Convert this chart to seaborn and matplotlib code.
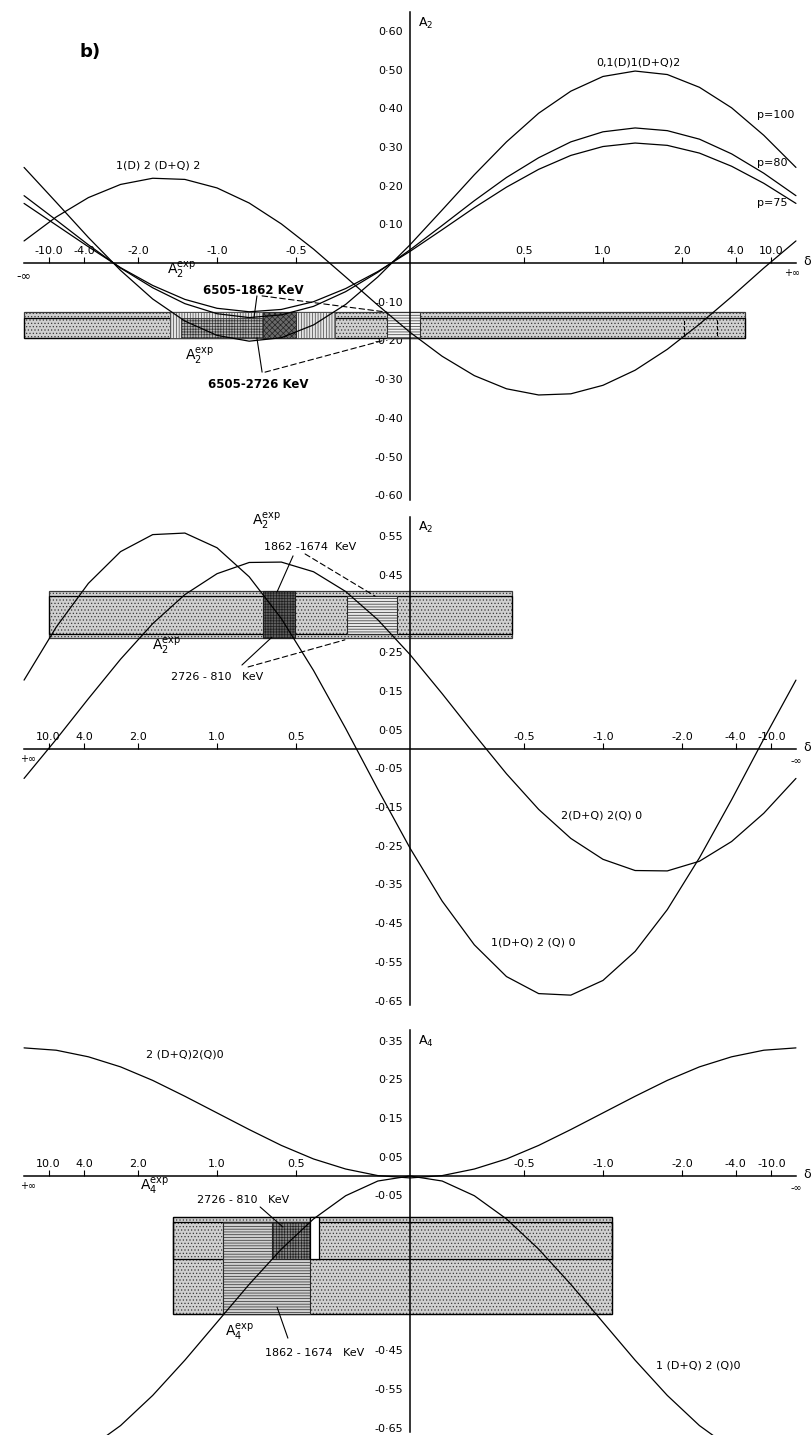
import numpy as np
import pandas as pd
import seaborn as sns
import matplotlib.pyplot as plt
from matplotlib.patches import Rectangle

# curves read on a grid of mixing angle arctan(delta), degrees
angle_deg = [-90, -82.5, -75, -67.5, -60, -52.5, -45, -37.5, -30, -22.5, -15, -7.5, 0,
             7.5, 15, 22.5, 30, 37.5, 45, 52.5, 60, 67.5, 75, 82.5, 90]

# panel 1: A2
a2_1d2dq2 = [0.057, 0.119, 0.169, 0.203, 0.219, 0.216, 0.194, 0.155, 0.101, 0.036, -0.036, -0.109,
             -0.179, -0.241, -0.291, -0.325, -0.341, -0.338, -0.316, -0.277, -0.223, -0.158, -0.087,
             -0.013, 0.057]
a2_p100 = [0.247, 0.157, 0.066, -0.019, -0.093, -0.150, -0.187, -0.202, -0.193, -0.160, -0.107, -0.036,
           0.047, 0.137, 0.228, 0.313, 0.387, 0.444, 0.482, 0.496, 0.487, 0.454, 0.401, 0.330, 0.247]
a2_p80 = [0.174, 0.111, 0.047, -0.013, -0.064, -0.105, -0.131, -0.141, -0.134, -0.112, -0.074, -0.024,
          0.034, 0.097, 0.161, 0.221, 0.272, 0.313, 0.339, 0.349, 0.342, 0.320, 0.282, 0.232, 0.174]
a2_p75 = [0.154, 0.098, 0.042, -0.012, -0.058, -0.094, -0.117, -0.126, -0.120, -0.100, -0.066, -0.022,
          0.030, 0.086, 0.143, 0.196, 0.242, 0.278, 0.301, 0.310, 0.304, 0.284, 0.250, 0.206, 0.154]

# panel 2: A2
a2_1dq2q0 = [0.178, 0.026, -0.131, -0.281, -0.415, -0.523, -0.598, -0.636, -0.632, -0.588, -0.506, -0.393,
             -0.256, -0.104, 0.053, 0.203, 0.337, 0.445, 0.520, 0.558, 0.554, 0.510, 0.428, 0.315, 0.178]
a2_2dq2q0 = [-0.076, -0.166, -0.239, -0.290, -0.315, -0.314, -0.285, -0.231, -0.156, -0.064, 0.038, 0.143,
             0.244, 0.334, 0.407, 0.458, 0.483, 0.482, 0.453, 0.399, 0.324, 0.232, 0.130, 0.025, -0.076]

# panel 3: A4
a4_2dq2q0 = [0.331, 0.325, 0.308, 0.282, 0.247, 0.206, 0.163, 0.120, 0.079, 0.044, 0.018, 0.001, -0.005,
             0.001, 0.018, 0.044, 0.079, 0.120, 0.163, 0.206, 0.247, 0.282, 0.308, 0.325, 0.331]
a4_1dq2q0 = [-0.756, -0.743, -0.705, -0.645, -0.567, -0.476, -0.378, -0.280, -0.189, -0.111, -0.051, -0.013,
             0.000, -0.013, -0.051, -0.111, -0.189, -0.280, -0.378, -0.476, -0.567, -0.645, -0.705, -0.743,
             -0.756]

delta_ticks = [-10.0, -4.0, -2.0, -1.0, -0.5, 0.5, 1.0, 2.0, 4.0, 10.0]
delta_labels = ['-10.0', '-4.0', '-2.0', '-1.0', '-0.5', '0.5', '1.0', '2.0', '4.0', '10.0']

p1_yticks = [0.6, 0.5, 0.4, 0.3, 0.2, 0.1, -0.1, -0.2, -0.3, -0.4, -0.5, -0.6]
p2_yticks = [0.55, 0.45, 0.35, 0.25, 0.15, 0.05, -0.05, -0.15, -0.25, -0.35, -0.45, -0.55, -0.65]
p3_yticks = [0.35, 0.25, 0.15, 0.05, -0.05, -0.15, -0.25, -0.35, -0.45, -0.55, -0.65]

# experimental bands: delta range, A range
p1_band_delta = [-np.inf, 4.8]
p1_band_1862 = [-0.194, -0.127]
p1_band_2726 = [-0.194, -0.142]
p1_win_a = [-1.48, -0.315]
p1_win_b = [-1.35, -0.50]
p1_win_c = [-0.68, -0.50]
p1_win_d = [-0.094, 0.04]
p1_win_e = [2.05, 3.0]

p2_band_delta = [10.0, -0.44]
p2_band_1862 = [0.287, 0.408]
p2_band_2726 = [0.297, 0.395]
p2_win_a = [0.505, 0.68]
p2_win_b = [0.053, 0.262]

p3_band_delta = [1.44, -1.08]
p3_band_2726 = [-0.215, -0.106]
p3_band_1862 = [-0.357, -0.119]
p3_win_a = [0.43, 0.95]
p3_win_b = [0.43, 0.63]
p3_win_c = [0.39, 0.43]

sns.set_theme(style="white")
plt.rcParams['font.family'] = ['DejaVu Sans']
plt.rcParams['text.color'] = 'black'
plt.rcParams['hatch.linewidth'] = 0.5
plt.rcParams['mathtext.default'] = 'regular'

fig = plt.figure(figsize=(8.12, 14.35), dpi=100)
ax1 = fig.add_axes([0, 1 - 505 / 1435, 1, 505 / 1435])
ax2 = fig.add_axes([0, 1 - 1015 / 1435, 1, 510 / 1435])
ax3 = fig.add_axes([0, 0, 1, 420 / 1435])


def curves_frame(**series):
    parts = [pd.DataFrame({'t': np.radians(angle_deg), 'A': v, 'curve': k}) for k, v in series.items()]
    return pd.concat(parts, ignore_index=True)


def setup(ax, ylim, reverse, yticks, vbounds, yname):
    xl = np.array([-410 / 245.7, 402 / 245.7])
    ax.set_xlim(-xl if reverse else xl)
    ax.set_ylim(ylim)
    ax.patch.set_visible(False)
    for s in ['right', 'bottom']:
        ax.spines[s].set_visible(False)
    ax.spines['left'].set_position(('data', 0))
    ax.spines['left'].set_bounds(*vbounds)
    ax.spines['top'].set_position(('data', 0))
    ax.spines['top'].set_bounds(-np.pi / 2, np.pi / 2)
    for s in ['left', 'top']:
        ax.spines[s].set_color('black')
        ax.spines[s].set_linewidth(1.1)
    ax.xaxis.set_ticks_position('top')
    ax.set_xticks(np.arctan(delta_ticks), delta_labels)
    ax.tick_params(axis='x', direction='out', length=4, width=0.8, pad=1, labelsize=8, colors='black')
    ax.set_yticks(yticks, [f"{v:.2f}".replace('.', '\u00b7') for v in yticks])
    ax.tick_params(axis='y', direction='inout', length=8, width=0.8, pad=1, labelsize=8, colors='black')
    ax.set(xlabel='', ylabel='')
    ax.grid(False)
    # infinity marks and delta label
    ax.annotate('-\u221e', xy=(-np.pi / 2, 0), xytext=(0, -9), textcoords='offset points',
                ha='center', va='center', fontsize=9 if not reverse else 7)
    ax.annotate('+\u221e', xy=(np.pi / 2, 0), xytext=(-3 if not reverse else 3, -7), textcoords='offset points',
                ha='center', va='center', fontsize=7)
    right = -np.pi / 2 if reverse else np.pi / 2
    ax.annotate('\u03b4', xy=(right, 0), xytext=(8, 1), textcoords='offset points',
                ha='center', va='center', fontsize=9)
    ax.annotate(yname, xy=(0, vbounds[1]), xytext=(6, -8), textcoords='offset points',
                ha='left', va='center', fontsize=9)


def span(d):
    return np.arctan(d[0]), np.arctan(d[1]) - np.arctan(d[0])


def rect(ax, d, a, **kw):
    x0, w = span(d)
    ax.add_patch(Rectangle((x0, a[0]), w, a[1] - a[0], **kw))


stipple = dict(facecolor='#cfcfcf', edgecolor='#3a3a3a', hatch='.....', linewidth=0.9, zorder=1)
outline = dict(facecolor='none', edgecolor='black', linewidth=0.9, zorder=1.5)
line_kw = dict(color='black', linewidth=0.9)
lead = dict(arrowstyle='-', color='black', lw=0.8, shrinkA=0, shrinkB=0)
dash = dict(arrowstyle='-', color='black', lw=0.8, ls=(0, (5, 3)), shrinkA=0, shrinkB=0)
txt = dict(fontsize=8, ha='center', va='center')
kev = dict(fontsize=8.5, ha='center', va='center', fontweight='bold')

# ---------------- panel 1 ----------------
setup(ax1, (-0.6253, 0.6796), False, p1_yticks, (-0.612, 0.649), r'$A_2$')
rect(ax1, p1_band_delta, p1_band_1862, **stipple)
rect(ax1, p1_band_delta, p1_band_2726, **outline)
rect(ax1, p1_win_a, p1_band_1862, facecolor='#e4e4e4', edgecolor='#444444', hatch='||||||', lw=0.6, zorder=1.6)
rect(ax1, p1_win_b, p1_band_2726, facecolor='#b5b5b5', edgecolor='#333333', hatch='++++++', lw=0.6, zorder=1.7)
rect(ax1, p1_win_c, p1_band_1862, facecolor='#6a6a6a', edgecolor='#222222', hatch='xxxxxx', lw=0.6, zorder=1.8)
rect(ax1, p1_win_d, p1_band_1862, facecolor='#f2f2f2', edgecolor='#333333', hatch='------', lw=0.8, zorder=1.6)
rect(ax1, p1_win_e, p1_band_2726, facecolor='none', edgecolor='black', lw=0.8, ls='--', zorder=1.6)

df1 = curves_frame(c1=a2_1d2dq2, p100=a2_p100, p80=a2_p80, p75=a2_p75)
sns.lineplot(data=df1, x='t', y='A', units='curve', estimator=None, sort=False, ax=ax1, **line_kw, zorder=3)
ax1.set(xlabel='', ylabel='')

ax1.text(-1.302, 0.545, 'b)', fontsize=13, fontweight='bold', ha='center', va='center')
ax1.text(0.928, 0.519, '0,1(D)1(D+Q)2', **txt)
ax1.text(1.412, 0.382, 'p=100', fontsize=8, ha='left', va='center')
ax1.text(1.412, 0.258, 'p=80', fontsize=8, ha='left', va='center')
ax1.text(1.412, 0.155, 'p=75', fontsize=8, ha='left', va='center')
ax1.text(-1.026, 0.253, '1(D) 2 (D+Q) 2', **txt)
ax1.text(-0.928, -0.018, r'$A_2^{exp}$', fontsize=10, ha='center', va='center')
ax1.text(-0.855, -0.240, r'$A_2^{exp}$', fontsize=10, ha='center', va='center')
ax1.text(-0.639, -0.070, '6505-1862 KeV', **kev)
ax1.text(-0.619, -0.315, '6505-2726 KeV', **kev)
ax1.annotate('', xy=(-0.635, -0.142), xytext=(-0.623, -0.085), arrowprops=lead)
ax1.annotate('', xy=(-0.094, -0.127), xytext=(-0.602, -0.085), arrowprops=dash)
ax1.annotate('', xy=(-0.623, -0.194), xytext=(-0.602, -0.282), arrowprops=lead)
ax1.annotate('', xy=(-0.102, -0.199), xytext=(-0.590, -0.282), arrowprops=dash)

# ---------------- panel 2 ----------------
setup(ax2, (-0.6873, 0.6305), True, p2_yticks, (-0.661, 0.600), r'$A_2$')
rect(ax2, p2_band_delta, p2_band_1862, **stipple)
rect(ax2, p2_band_delta, p2_band_2726, **outline)
rect(ax2, p2_win_a, p2_band_1862, facecolor='#5e5e5e', edgecolor='#1e1e1e', hatch='++++++', lw=0.8, zorder=1.8)
rect(ax2, p2_win_b, p2_band_2726, facecolor='#e8e8e8', edgecolor='#2a2a2a', hatch='------', lw=0.8, zorder=1.6)

df2 = curves_frame(c1=a2_1dq2q0, c2=a2_2dq2q0)
sns.lineplot(data=df2, x='t', y='A', units='curve', estimator=None, sort=False, ax=ax2, **line_kw, zorder=3)
ax2.set(xlabel='', ylabel='')

ax2.text(0.582, 0.587, r'$A_2^{exp}$', fontsize=10, ha='center', va='center')
ax2.text(0.407, 0.522, '1862 -1674  KeV', **txt)
ax2.annotate('', xy=(0.541, 0.406), xytext=(0.476, 0.499), arrowprops=lead)
ax2.annotate('', xy=(0.142, 0.395), xytext=(0.427, 0.504), arrowprops=dash)
ax2.text(0.989, 0.264, r'$A_2^{exp}$', fontsize=10, ha='center', va='center')
ax2.text(0.786, 0.186, '2726 - 810   KeV', **txt)
ax2.annotate('', xy=(0.562, 0.289), xytext=(0.684, 0.217), arrowprops=lead)
ax2.annotate('', xy=(0.265, 0.282), xytext=(0.659, 0.212), arrowprops=dash)
ax2.text(-0.781, -0.171, '2(D+Q) 2(Q) 0', **txt)
ax2.text(-0.501, -0.501, '1(D+Q) 2 (Q) 0', **txt)

# ---------------- panel 3 ----------------
setup(ax3, (-0.6693, 0.4160), True, p3_yticks, (-0.661, 0.377), r'$A_4$')
rect(ax3, p3_band_delta, [p3_band_1862[0], p3_band_2726[1]], **stipple)
rect(ax3, p3_band_delta, p3_band_2726, **outline)
rect(ax3, p3_band_delta, p3_band_1862, **outline)
rect(ax3, p3_win_a, p3_band_1862, facecolor='#d0d0d0', edgecolor='#2a2a2a', hatch='------', lw=0.8, zorder=1.6)
rect(ax3, p3_win_b, [p3_band_2726[0], p3_band_1862[1]], facecolor='#8a8a8a', edgecolor='#222222',
     hatch='++++++', lw=0.8, zorder=1.7)
rect(ax3, p3_win_c, p3_band_2726, facecolor='white', edgecolor='black', lw=0.9, zorder=1.8)

df3 = curves_frame(c1=a4_2dq2q0, c2=a4_1dq2q0)
sns.lineplot(data=df3, x='t', y='A', units='curve', estimator=None, sort=False, ax=ax3, **line_kw, zorder=3)
ax3.set(xlabel='', ylabel='')

ax3.text(0.916, 0.315, '2 (D+Q)2(Q)0', **txt)
ax3.text(1.038, -0.028, r'$A_4^{exp}$', fontsize=10, ha='center', va='center')
ax3.text(0.680, -0.062, '2726 - 810   KeV', **txt)
ax3.annotate('', xy=(0.517, -0.132), xytext=(0.610, -0.080), arrowprops=lead)
ax3.text(0.692, -0.403, r'$A_4^{exp}$', fontsize=10, ha='center', va='center')
ax3.text(0.387, -0.457, '1862 - 1674   KeV', **txt)
ax3.annotate('', xy=(0.541, -0.339), xytext=(0.497, -0.419), arrowprops=lead)
ax3.text(-1.172, -0.491, '1 (D+Q) 2 (Q)0', **txt)

fig.savefig('out.png', dpi=100)
